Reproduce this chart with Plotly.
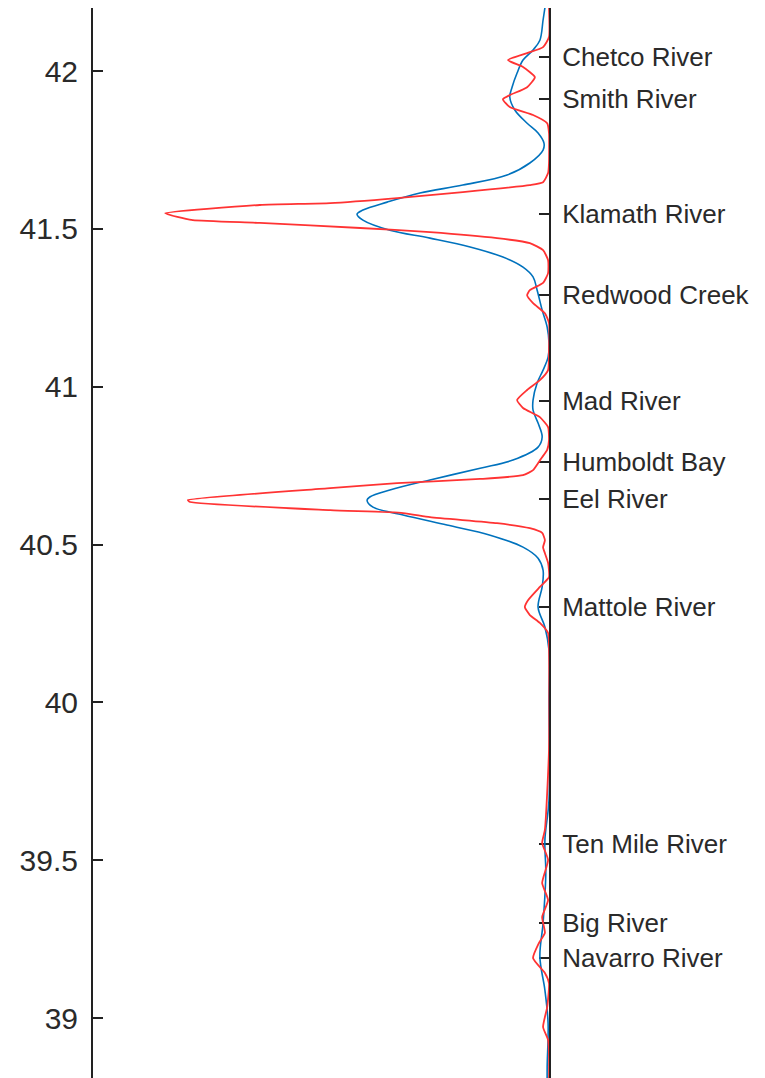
import plotly.graph_objects as go

# latitude / amplitude of the blue (smooth) curve
blue_lat = [42.200, 42.162, 42.098, 42.067, 42.035, 41.994, 41.949, 41.918, 41.877, 41.835,
            41.804, 41.772, 41.750, 41.709, 41.671, 41.639, 41.614, 41.585, 41.560, 41.547,
            41.528, 41.496, 41.471, 41.443, 41.411, 41.379, 41.348, 41.306, 41.243, 41.189,
            41.138, 41.094, 41.053, 41.012, 40.958, 40.926, 40.885, 40.841, 40.809, 40.768,
            40.742, 40.705, 40.673, 40.651, 40.641, 40.619, 40.594, 40.562, 40.530, 40.492,
            40.457, 40.419, 40.366, 40.302, 40.239, 40.166, 40.008, 39.691, 39.564, 39.460,
            39.301, 39.194, 39.089, 38.984, 38.845, 38.785]
blue_val = [0.009, 0.013, 0.020, 0.035, 0.057, 0.070, 0.081, 0.086, 0.075, 0.048,
            0.024, 0.011, 0.013, 0.042, 0.092, 0.189, 0.283, 0.355, 0.408, 0.421,
            0.408, 0.349, 0.261, 0.173, 0.101, 0.057, 0.035, 0.026, 0.015, 0.004,
            0.000, 0.002, 0.013, 0.026, 0.035, 0.035, 0.024, 0.015, 0.024, 0.079,
            0.151, 0.261, 0.349, 0.393, 0.399, 0.386, 0.320, 0.224, 0.129, 0.057,
            0.024, 0.013, 0.015, 0.024, 0.009, 0.000, 0.000, 0.000, 0.009, 0.007,
            0.013, 0.020, 0.009, 0.002, 0.004, 0.004]

# latitude / amplitude of the red (sharp) curve
red_lat = [42.203, 42.108, 42.076, 42.057, 42.035, 42.013, 41.981, 41.949, 41.924, 41.911,
           41.886, 41.861, 41.835, 41.804, 41.709, 41.677, 41.648, 41.639, 41.617, 41.598,
           41.582, 41.576, 41.550, 41.538, 41.528, 41.519, 41.503, 41.490, 41.471, 41.455,
           41.433, 41.401, 41.360, 41.329, 41.306, 41.290, 41.265, 41.233, 41.202, 41.116,
           41.053, 41.021, 40.990, 40.958, 40.933, 40.904, 40.872, 40.831, 40.800, 40.777,
           40.758, 40.736, 40.720, 40.708, 40.695, 40.679, 40.641, 40.635, 40.609, 40.600,
           40.587, 40.568, 40.552, 40.537, 40.514, 40.492, 40.473, 40.442, 40.397, 40.366,
           40.324, 40.302, 40.277, 40.252, 40.220, 40.176, 39.849, 39.596, 39.555, 39.501,
           39.428, 39.374, 39.320, 39.270, 39.238, 39.190, 39.143, 39.111, 39.035, 38.972,
           38.931, 38.877, 38.785]
red_val = [0.000, 0.000, 0.013, 0.048, 0.090, 0.057, 0.031, 0.048, 0.086, 0.101,
           0.086, 0.035, 0.004, 0.000, 0.000, 0.002, 0.013, 0.042, 0.189, 0.333,
           0.480, 0.634, 0.842, 0.815, 0.781, 0.634, 0.414, 0.261, 0.114, 0.042,
           0.013, 0.002, 0.002, 0.013, 0.042, 0.048, 0.035, 0.009, 0.000, 0.000,
           0.002, 0.020, 0.048, 0.070, 0.057, 0.020, 0.002, 0.000, 0.004, 0.015,
           0.024, 0.035, 0.057, 0.151, 0.333, 0.480, 0.792, 0.787, 0.480, 0.320,
           0.261, 0.114, 0.042, 0.015, 0.009, 0.013, 0.009, 0.002, 0.000, 0.020,
           0.046, 0.053, 0.042, 0.020, 0.002, 0.000, 0.000, 0.009, 0.015, 0.002,
           0.015, 0.002, 0.015, 0.009, 0.022, 0.035, 0.009, 0.000, 0.004, 0.013,
           0.002, 0.000, 0.000]

rivers = ['Chetco River', 'Smith River', 'Klamath River', 'Redwood Creek', 'Mad River',
          'Humboldt Bay', 'Eel River', 'Mattole River', 'Ten Mile River', 'Big River',
          'Navarro River']
river_lat = [42.045, 41.911, 41.547, 41.290, 40.955, 40.761, 40.644, 40.304, 39.551, 39.301,
             39.191]

lat_ticks = [39, 39.5, 40, 40.5, 41, 41.5, 42]
lat_range = [38.785, 42.2]

fig = go.Figure()
fig.add_trace(go.Scatter(x=blue_val, y=blue_lat, mode='lines',
                         line=dict(color='#0072BD', width=1.6, shape='spline', smoothing=1),
                         showlegend=False))
fig.add_trace(go.Scatter(x=red_val, y=red_lat, mode='lines',
                         line=dict(color='#FF3333', width=1.8, shape='spline', smoothing=0.5),
                         showlegend=False))
# invisible trace to carry the right-hand river axis
fig.add_trace(go.Scatter(x=[0, 0], y=lat_range, yaxis='y2', mode='lines',
                         line=dict(width=0), hoverinfo='skip', showlegend=False))

fig.update_layout(
    width=765, height=1078,
    margin=dict(l=85, r=224, t=0, b=0),
    paper_bgcolor='white', plot_bgcolor='white',
    font=dict(family='Liberation Sans, Arial, sans-serif', color='#2a2a2a'),
    xaxis=dict(range=[1.0, 0.0], visible=False),
    yaxis=dict(range=lat_range, tickvals=lat_ticks, ticktext=[str(t) for t in lat_ticks],
               showline=True, linecolor='#222', linewidth=2, ticks='inside',
               ticklen=10, tickwidth=2, tickcolor='#222', showgrid=False, zeroline=False,
               tickfont=dict(size=30), ticklabelstandoff=7, layer='below traces'),
    yaxis2=dict(range=lat_range, overlaying='y', side='right', anchor='x',
                tickvals=river_lat, ticktext=rivers, showline=True, linecolor='#222',
                linewidth=2, ticks='inside', ticklen=10, tickwidth=2, tickcolor='#222',
                showgrid=False, zeroline=False, tickfont=dict(size=26),
                ticklabelstandoff=6, layer='below traces'),
)

fig.write_html("out.html")
